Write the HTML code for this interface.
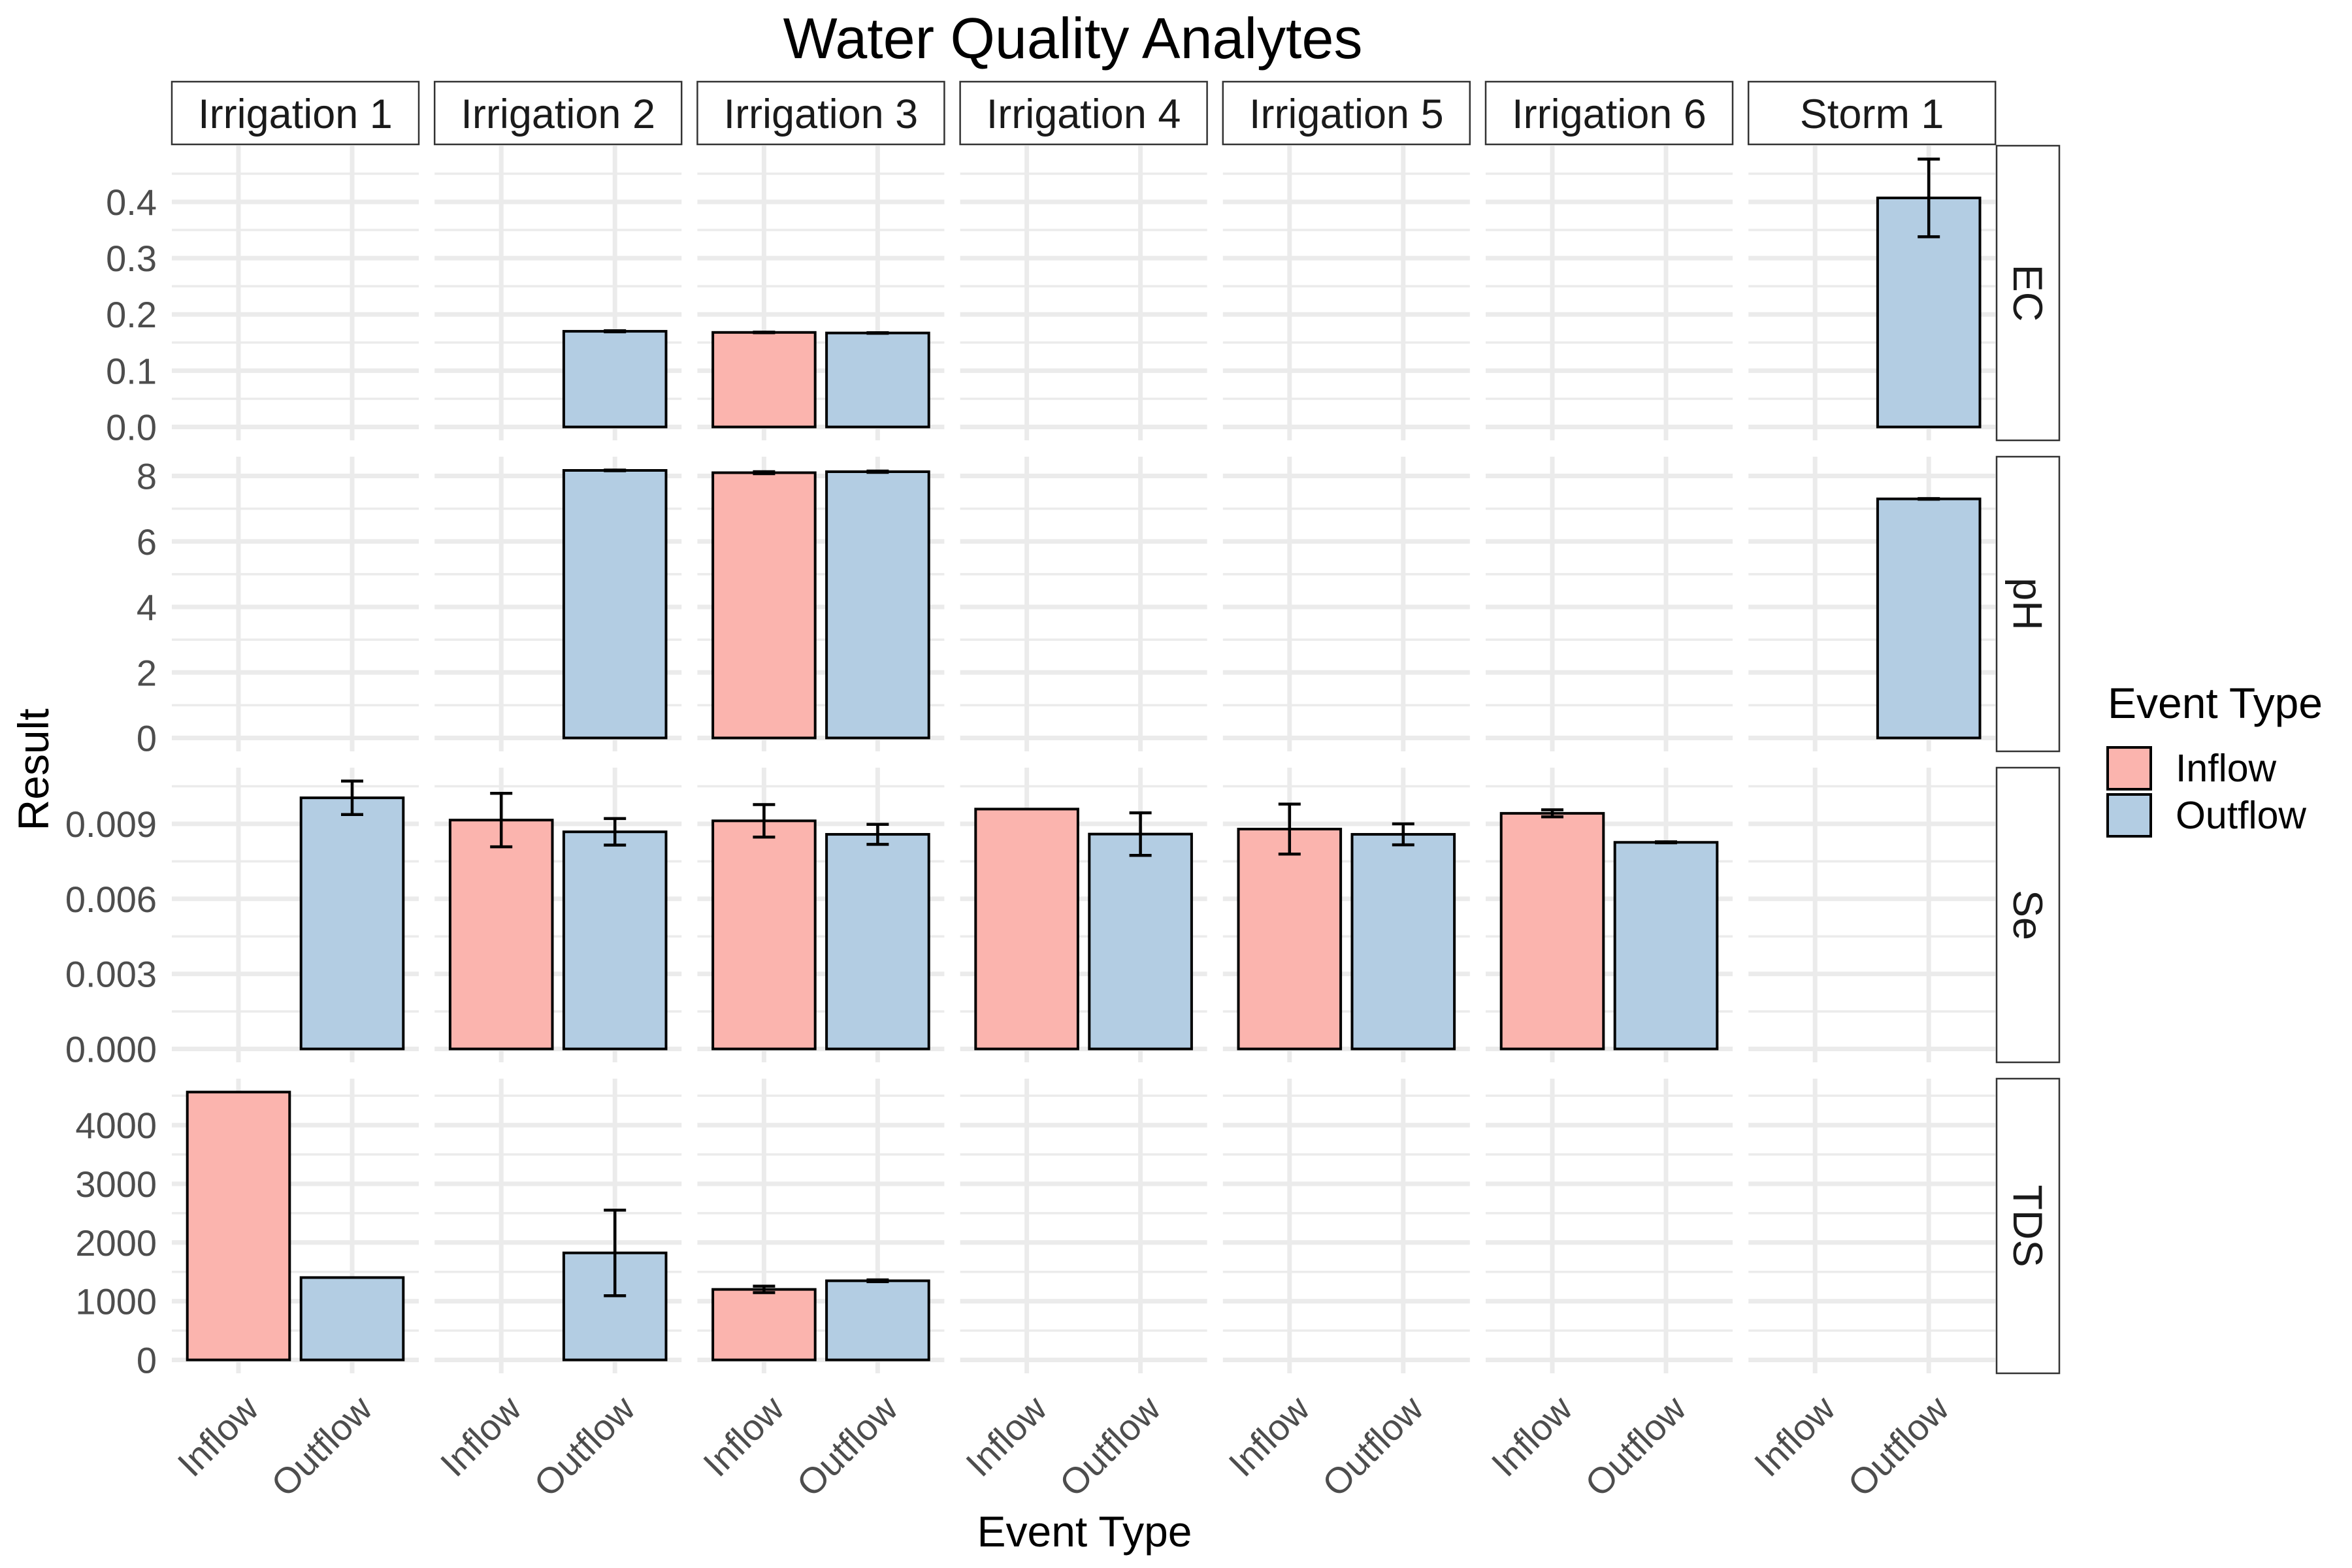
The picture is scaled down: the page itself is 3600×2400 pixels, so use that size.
<!DOCTYPE html>
<html><head><meta charset="utf-8">
<style>
html,body{margin:0;padding:0;background:#fff;}
svg{display:block;font-family:"Liberation Sans",Arial,sans-serif;}
</style></head>
<body>
<svg id="chart" width="3600" height="2400" viewBox="0 0 3600 2400" xmlns="http://www.w3.org/2000/svg">
<text x="1642" y="89" font-size="88" text-anchor="middle" fill="#000">Water Quality Analytes</text>
<text transform="translate(74,1178) rotate(-90)" font-size="66" text-anchor="middle" fill="#000">Result</text>
<text x="1660" y="2367" font-size="66" text-anchor="middle" fill="#000">Event Type</text>
<g>
<text x="3226" y="1099" font-size="66" fill="#000">Event Type</text>
<rect x="3226" y="1144" width="66" height="64" fill="#FBB4AE" stroke="#000" stroke-width="4"/>
<text x="3330" y="1196" font-size="59" fill="#000">Inflow</text>
<rect x="3226" y="1216" width="66" height="64" fill="#B3CDE3" stroke="#000" stroke-width="4"/>
<text x="3330" y="1268" font-size="59" fill="#000">Outflow</text>
</g>
<g id="plot"></g>
</svg>
<script>
const events = ["Irrigation 1","Irrigation 2","Irrigation 3","Irrigation 4","Irrigation 5","Irrigation 6","Storm 1"];
const analytes = ["EC","pH","Se","TDS"];
const typeLabels = ["Inflow","Outflow"];
const ecInflow = [null,null,0.168,null,null,null,null];
const ecInflowErr = [null,null,0.0005,null,null,null,null];
const ecOutflow = [null,0.170,0.167,null,null,null,0.407];
const ecOutflowErr = [null,0.001,0.0005,null,null,null,0.069];
const phInflow = [null,null,8.10,null,null,null,null];
const phInflowErr = [null,null,0.03,null,null,null,null];
const phOutflow = [null,8.17,8.13,null,null,null,7.30];
const phOutflowErr = [null,0.01,0.02,null,null,null,0.01];
const seInflow = [null,0.00915,0.00912,0.00959,0.00879,0.00942,null];
const seInflowErr = [null,0.00107,0.00065,null,0.00100,0.00014,null];
const seOutflow = [0.01004,0.00868,0.00858,0.00859,0.00858,0.00826,null];
const seOutflowErr = [0.00067,0.00053,0.00040,0.00085,0.00042,0.00002,null];
const tdsInflow = [4563,null,1201,null,null,null,null];
const tdsInflowErr = [null,null,55,null,null,null,null];
const tdsOutflow = [1403,1823,1348,null,null,null,null];
const tdsOutflowErr = [null,729,15,null,null,null,null];
const ecTicks = [0,0.1,0.2,0.3,0.4];
const ecTickLabels = ["0.0","0.1","0.2","0.3","0.4"];
const phTicks = [0,2,4,6,8];
const phTickLabels = ["0","2","4","6","8"];
const seTicks = [0,0.003,0.006,0.009];
const seTickLabels = ["0.000","0.003","0.006","0.009"];
const tdsTicks = [0,1000,2000,3000,4000];
const tdsTickLabels = ["0","1000","2000","3000","4000"];

const rows = [
 {inV:ecInflow,inE:ecInflowErr,outV:ecOutflow,outE:ecOutflowErr,ticks:ecTicks,labels:ecTickLabels},
 {inV:phInflow,inE:phInflowErr,outV:phOutflow,outE:phOutflowErr,ticks:phTicks,labels:phTickLabels},
 {inV:seInflow,inE:seInflowErr,outV:seOutflow,outE:seOutflowErr,ticks:seTicks,labels:seTickLabels},
 {inV:tdsInflow,inE:tdsInflowErr,outV:tdsOutflow,outE:tdsOutflowErr,ticks:tdsTicks,labels:tdsTickLabels}
];
const NS="http://www.w3.org/2000/svg";
const plot=document.getElementById('plot');
function mk(tag,attrs,parent){const e=document.createElementNS(NS,tag);for(const k in attrs)e.setAttribute(k,attrs[k]);(parent||plot).appendChild(e);return e;}
const PL=263,PW=378,PP=402.2,RT=223,RH=451,RP=476,UNIT=174;
const colors=["#FBB4AE","#B3CDE3"];
function xCenter(p,t){return PL+p*PP+102+t*UNIT;}

events.forEach((ev,p)=>{
  const r=mk('rect',{x:PL+p*PP,y:125,width:PW,height:96,fill:'#fff',stroke:'#333','stroke-width':2.5});
  
  
  const t=mk('text',{x:PL+p*PP+PW/2,y:196,'font-size':63,'text-anchor':'middle',fill:'#1a1a1a'});
  
  
  t.textContent=ev;
});

rows.forEach((row,ri)=>{
  const top=RT+ri*RP,bot=top+RH;
  let mx=0;
  [[row.inV,row.inE],[row.outV,row.outE]].forEach(([v,e])=>v.forEach((val,i)=>{if(val!=null){mx=Math.max(mx,val+(e[i]||0));}}));
  const pad=mx*0.05,ymin=-pad,ymax=mx+pad;
  const y=v=>bot-(v-ymin)/(ymax-ymin)*RH;
  const step=row.ticks[1]-row.ticks[0];
  const rs=mk('rect',{x:3056,y:top,width:96,height:RH,fill:'#fff',stroke:'#333','stroke-width':2.5});
  
  
  const rt=mk('text',{transform:`translate(3082,${top+RH/2}) rotate(90)`,'font-size':63,'text-anchor':'middle',fill:'#1a1a1a'});
  
  
  rt.textContent=analytes[ri];
  row.ticks.forEach((tv,k)=>{
    const t=mk('text',{x:240,y:y(tv)+20,'font-size':56,'text-anchor':'end',fill:'#4d4d4d'});
    
    
    t.textContent=row.labels[k];
  });
  events.forEach((ev,p)=>{
    const x0=PL+p*PP,x1=x0+PW;
    const g=mk('g',{});
    
    
    for(let v=row.ticks[0]-step/2; v<=ymax; v+=step){
      if(v<ymin) continue;
      const l=mk('line',{x1:x0,x2:x1,y1:y(v),y2:y(v),stroke:'#ebebeb','stroke-width':3.5},g);
      
      
    }
    row.ticks.forEach(tv=>{
      const l=mk('line',{x1:x0,x2:x1,y1:y(tv),y2:y(tv),stroke:'#ebebeb','stroke-width':7},g);
      
      
    });
    [0,1].forEach(t=>{
      const l=mk('line',{x1:xCenter(p,t),x2:xCenter(p,t),y1:top,y2:bot,stroke:'#ebebeb','stroke-width':7},g);
      
      
    });
    [[row.inV,row.inE],[row.outV,row.outE]].forEach(([vals,errs],t)=>{
      const v=vals[p]; if(v==null) return;
      const cx=xCenter(p,t),bw=UNIT*0.9;
      const b=mk('rect',{x:cx-bw/2,y:y(v),width:bw,height:y(0)-y(v),fill:colors[t],stroke:'#000','stroke-width':4},g);
      
      
      const e=errs[p];
      if(e!=null){
        const eg=mk('g',{stroke:'#000','stroke-width':4.5},g);
        
        
        mk('line',{x1:cx,x2:cx,y1:y(v+e),y2:y(v-e)},eg);
        mk('line',{x1:cx-17,x2:cx+17,y1:y(v+e),y2:y(v+e)},eg);
        mk('line',{x1:cx-17,x2:cx+17,y1:y(v-e),y2:y(v-e)},eg);
      }
    });
  });
});
events.forEach((ev,p)=>{
  [0,1].forEach(t=>{
    const cx=xCenter(p,t);
    const tx=mk('text',{transform:`translate(${cx+34},2160) rotate(-45)`,'font-size':56,'text-anchor':'end',fill:'#4d4d4d'});
    
    
    tx.textContent=typeLabels[t];
  });
});
</script>
</body></html>
